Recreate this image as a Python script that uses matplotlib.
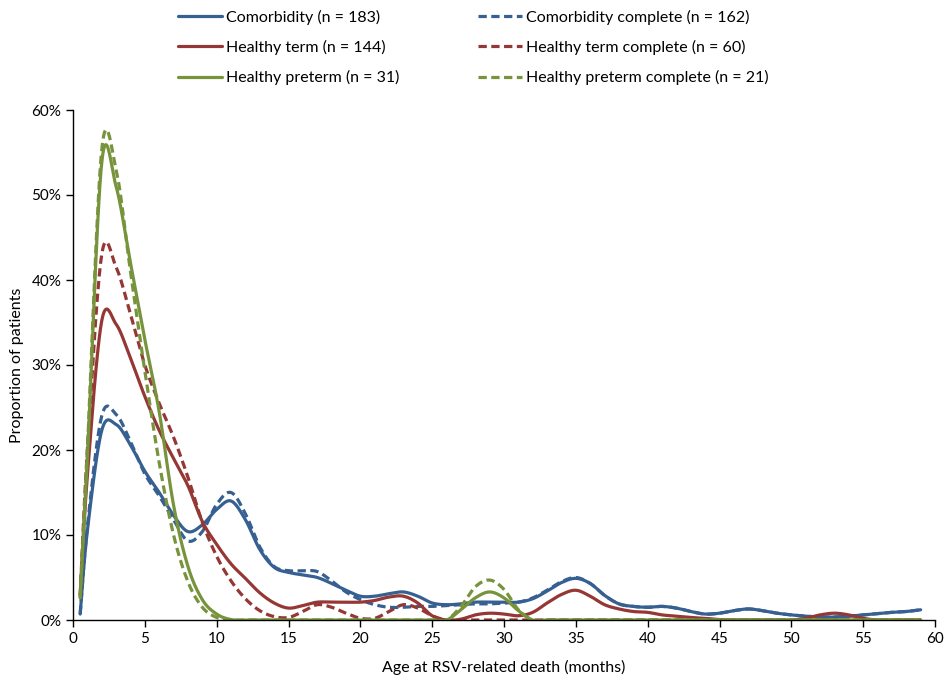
import numpy as np
import matplotlib
matplotlib.use("Agg")
import matplotlib.pyplot as plt
from matplotlib.ticker import PercentFormatter, MultipleLocator

plt.rcParams['font.family'] = ['Lato', 'DejaVu Sans']

# ---- data (percent of patients by age at death, months) ----
months = [0.5] + list(range(1, 60))

comorbidity = [0.7, 10.5, 22.3, 23.0, 20.6, 17.5, 15.0, 12.3, 10.4, 11.2,
               13.0, 14.0, 11.8, 8.3, 6.2, 5.6, 5.3, 5.0, 4.3, 3.5,
               2.8, 2.8, 3.1, 3.3, 2.8, 2.0, 1.8, 1.9, 2.1, 2.1,
               2.1, 2.1, 2.5, 3.4, 4.4, 4.9, 4.3, 2.9, 1.9, 1.6,
               1.5, 1.6, 1.4, 1.0, 0.7, 0.8, 1.1, 1.3, 1.1, 0.8,
               0.6, 0.45, 0.35, 0.35, 0.45, 0.6, 0.75, 0.9, 1.0, 1.2]
comorbidity_complete = [0.7, 11.0, 24.0, 24.2, 21.0, 17.2, 14.6, 11.8, 9.3, 10.4,
                        13.6, 15.0, 12.5, 8.6, 6.3, 5.8, 5.8, 5.7, 4.6, 3.3,
                        2.4, 1.8, 1.5, 1.5, 1.6, 1.6, 1.7, 1.8, 1.9, 1.9,
                        2.0, 2.1, 2.6, 3.5, 4.5, 5.0, 4.3, 2.9, 1.9, 1.6,
                        1.5, 1.6, 1.4, 1.0, 0.7, 0.8, 1.1, 1.3, 1.1, 0.8,
                        0.6, 0.45, 0.35, 0.35, 0.45, 0.6, 0.75, 0.9, 1.0, 1.2]
healthy_term = [2.9, 17.0, 35.2, 34.8, 30.8, 26.3, 22.3, 19.0, 15.8, 11.6,
                8.9, 6.6, 4.9, 3.2, 2.0, 1.4, 1.7, 2.1, 2.1, 2.1,
                2.1, 2.3, 2.7, 2.8, 2.0, 0.5, 0.0, 0.1, 0.6, 0.8,
                0.7, 0.5, 0.9, 2.0, 3.0, 3.5, 2.8, 1.8, 1.3, 1.0,
                0.9, 0.6, 0.45, 0.3, 0.2, 0.05, 0.0, 0.0, 0.0, 0.0,
                0.0, 0.2, 0.6, 0.8, 0.6, 0.2, 0.0, 0.0, 0.0, 0.0]
healthy_term_complete = [2.9, 20.0, 43.0, 41.5, 36.0, 30.0, 25.5, 21.5, 16.8, 11.5,
                         7.5, 4.6, 2.5, 1.1, 0.4, 0.3, 1.0, 1.8, 1.5, 0.8,
                         0.2, 0.2, 1.0, 1.8, 1.4, 0.5, 0.0, 0.0, 0.0, 0.0,
                         0.0, 0.0, 0.0, 0.0, 0.0, 0.0, 0.0, 0.0, 0.0, 0.0,
                         0.0, 0.0, 0.0, 0.0, 0.0, 0.0, 0.0, 0.0, 0.0, 0.0,
                         0.0, 0.0, 0.0, 0.0, 0.0, 0.0, 0.0, 0.0, 0.0, 0.0]
healthy_preterm = [2.6, 19.0, 53.8, 51.0, 42.0, 33.0, 24.5, 13.5, 6.3, 2.4,
                   0.7, 0.05, 0.0, 0.0, 0.0, 0.0, 0.0, 0.0, 0.0, 0.0,
                   0.0, 0.0, 0.0, 0.0, 0.0, 0.0, 0.0, 1.2, 2.6, 3.3,
                   2.6, 1.1, 0.0, 0.0, 0.0, 0.0, 0.0, 0.0, 0.0, 0.0,
                   0.0, 0.0, 0.0, 0.0, 0.0, 0.0, 0.0, 0.0, 0.0, 0.0,
                   0.0, 0.0, 0.0, 0.0, 0.0, 0.0, 0.0, 0.0, 0.0, 0.0]
healthy_preterm_complete = [2.6, 20.0, 55.3, 53.0, 41.0, 29.3, 18.5, 10.0, 4.5, 1.5,
                            0.3, 0.0, 0.0, 0.0, 0.0, 0.0, 0.0, 0.0, 0.0, 0.0,
                            0.0, 0.0, 0.0, 0.0, 0.0, 0.0, 0.0, 1.6, 3.9, 4.7,
                            3.6, 1.2, 0.0, 0.0, 0.0, 0.0, 0.0, 0.0, 0.0, 0.0,
                            0.0, 0.0, 0.0, 0.0, 0.0, 0.0, 0.0, 0.0, 0.0, 0.0,
                            0.0, 0.0, 0.0, 0.0, 0.0, 0.0, 0.0, 0.0, 0.0, 0.0]

labels = ["Comorbidity (n = 183)", "Comorbidity complete (n = 162)",
          "Healthy term (n = 144)", "Healthy term complete (n = 60)",
          "Healthy preterm (n = 31)", "Healthy preterm complete (n = 21)"]

BLUE, RED, GREEN = "#376092", "#953735", "#77933C"


def smooth(x, y, n=24):
    """Excel-like smoothed line: Catmull-Rom Bezier through the points."""
    P = np.column_stack([x, y]).astype(float)
    Pext = np.vstack([P[0], P, P[-1]])
    xs, ys = [], []
    t = np.linspace(0, 1, n, endpoint=False)[:, None]
    for i in range(len(P) - 1):
        p0, p3 = Pext[i + 1], Pext[i + 2]
        c1 = p0 + (Pext[i + 2] - Pext[i]) / 6.0
        c2 = p3 - (Pext[i + 3] - Pext[i + 1]) / 6.0
        b = ((1 - t) ** 3) * p0 + 3 * ((1 - t) ** 2) * t * c1 + 3 * (1 - t) * t ** 2 * c2 + t ** 3 * p3
        xs.append(b[:, 0]); ys.append(b[:, 1])
    xs.append([P[-1, 0]]); ys.append([P[-1, 1]])
    return np.concatenate(xs), np.concatenate(ys)


fig = plt.figure(figsize=(9.52, 6.83), dpi=100)
ax = fig.add_axes([73 / 952, 1 - 620 / 683, (935 - 73) / 952, (620 - 110) / 683])

series = [
    (comorbidity, BLUE, '-'),
    (comorbidity_complete, BLUE, '--'),
    (healthy_term, RED, '-'),
    (healthy_term_complete, RED, '--'),
    (healthy_preterm, GREEN, '-'),
    (healthy_preterm_complete, GREEN, '--'),
]
handles = []
for (vals, col, ls), lab in zip(series, labels):
    sx, sy = smooth(months, vals)
    line, = ax.plot(sx, sy, color=col, lw=2.3, label=lab, solid_capstyle='round')
    if ls == '--':
        line.set_dashes([2.6, 1.4])
    handles.append(line)

ax.set_xlim(0, 60)
ax.set_ylim(0, 60)
ax.xaxis.set_major_locator(MultipleLocator(5))
ax.yaxis.set_major_locator(MultipleLocator(10))
ax.yaxis.set_major_formatter(PercentFormatter(decimals=0))
for s in ['top', 'right']:
    ax.spines[s].set_visible(False)
for s in ['left', 'bottom']:
    ax.spines[s].set_linewidth(1.0)
ax.tick_params(direction='out', length=5, width=1, labelsize=11, colors='black')
ax.set_xlabel("Age at RSV-related death (months)", fontsize=11.5, labelpad=10)
ax.set_ylabel("Proportion of patients", fontsize=11.5, labelpad=5)

order = [0, 2, 4, 1, 3, 5]
fig.legend([handles[i] for i in order], [labels[i] for i in order],
           loc='upper center', bbox_to_anchor=(0.497, 1.0), ncol=2,
           frameon=False, fontsize=11.5, handlelength=2.75, handletextpad=0.25,
           columnspacing=4.9, labelspacing=0.95, borderpad=0.1)

fig.savefig("out.png", dpi=100)
